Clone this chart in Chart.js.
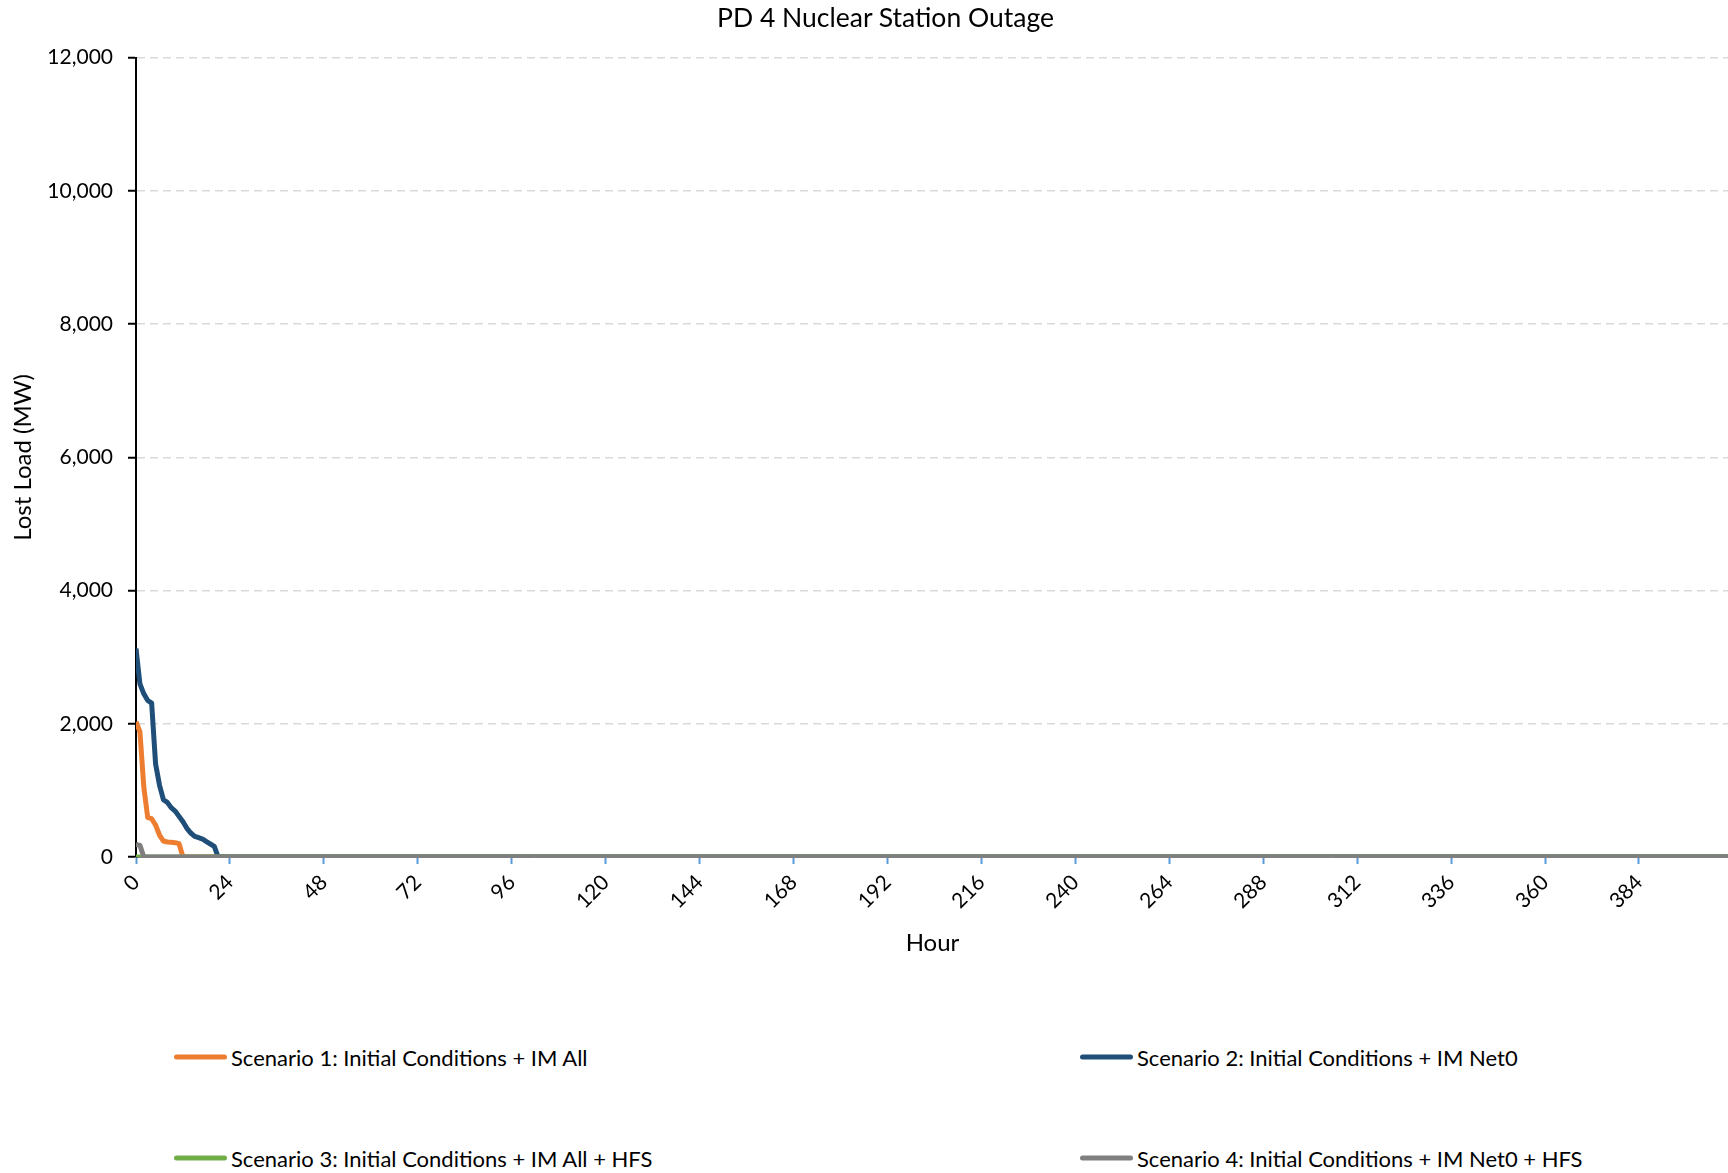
<!DOCTYPE html>
<html>
<head>
<meta charset="utf-8">
<script src="https://cdn.jsdelivr.net/npm/chart.js@4"></script>
<style>
  body { margin: 0; background: #fff; overflow: hidden; }
  #wrap { position: relative; width: 1771px; height: 1200px; }
  #title { position: absolute; left: 0; top: 1px; width: 1771px; height: 32px; line-height: 32px;
           text-align: center; font: 26.5px Lato, sans-serif; color: #000; }
  .item { position: absolute; display: flex; align-items: center; transform: translateY(-50%);
          font: 22px Lato, sans-serif; color: #000; white-space: nowrap; }
  .swatch { display: inline-block; width: 53px; height: 5px; border-radius: 3px; margin-right: 4px; }
</style>
</head>
<body>
<div id="wrap">
  <canvas id="outageChart" width="1764" height="1000"></canvas>
  <div id="title">PD 4 Nuclear Station Outage</div>
  <div id="legend"></div>
</div>
<script>
  // hours 0..24 read point by point, then flat at zero to the end of the run
  const hours = [0, 1, 2, 3, 4, 5, 6, 7, 8, 9, 10, 11, 12, 13, 14, 15, 16, 17, 18, 19, 20, 21, 22, 23, 24, 407];
  const scenario1 = [2030, 1880, 1050, 590, 575, 480, 330, 240, 225, 220, 215, 200, 0, 0, 0, 0, 0, 0, 0, 0, 0, 0, 0, 0, 0, 0];
  const scenario2 = [3130, 2600, 2450, 2350, 2310, 1400, 1080, 860, 820, 740, 690, 610, 530, 430, 360, 310, 290, 270, 230, 195, 160, 0, 0, 0, 0, 0];
  const scenario3 = [0, 0, 0, 0, 0, 0, 0, 0, 0, 0, 0, 0, 0, 0, 0, 0, 0, 0, 0, 0, 0, 0, 0, 0, 0, 0];
  const scenario4 = [190, 175, 0, 0, 0, 0, 0, 0, 0, 0, 0, 0, 0, 0, 0, 0, 0, 0, 0, 0, 0, 0, 0, 0, 0, 0];

  const seriesNames = [
    'Scenario 1: Initial Conditions + IM All',
    'Scenario 2: Initial Conditions + IM Net0',
    'Scenario 3: Initial Conditions + IM All + HFS',
    'Scenario 4: Initial Conditions + IM Net0 + HFS'
  ];
  const seriesColors = ['#ED7D31', '#1F4E79', '#70AD47', '#7F7F7F'];
  const seriesValues = [scenario1, scenario2, scenario3, scenario4];

  const toPoints = vals => vals.map((v, i) => ({ x: hours[i], y: v }));

  const datasets = seriesValues.map((vals, i) => ({
    label: seriesNames[i],
    data: toPoints(vals),
    borderColor: seriesColors[i],
    backgroundColor: seriesColors[i],
    borderWidth: 5,
    pointRadius: 0,
    tension: 0,
    borderJoinStyle: 'round',
    order: 4 - i   // later series drawn on top, like the original
  }));

  const font = { family: 'Lato', size: 21 };

  new Chart(document.getElementById('outageChart'), {
    type: 'line',
    data: { datasets },
    options: {
      responsive: false,
      animation: false,
      layout: { padding: { top: 57.7, right: 35 } },
      plugins: {
        legend: { display: false },
        tooltip: { enabled: false },
        title: { display: false }
      },
      scales: {
        x: {
          type: 'linear',
          min: 0,
          max: 407,
          afterFit: s => { s.height = 143; },
          ticks: {
            stepSize: 24,
            includeBounds: false,
            autoSkip: false,
            minRotation: 45,
            maxRotation: 45,
            color: '#000',
            font,
            padding: 6
          },
          grid: {
            drawOnChartArea: false,
            drawTicks: true,
            tickLength: 7,
            tickColor: '#5B9BD5',
            tickWidth: 2
          },
          border: { display: true, color: '#7F7F7F', width: 1 },
          title: {
            display: true,
            text: 'Hour',
            color: '#000',
            font: { family: 'Lato', size: 24 },
            padding: { top: 0, bottom: 42.6 }
          }
        },
        y: {
          min: 0,
          max: 12000,
          afterFit: s => { s.width = 136; },
          ticks: {
            stepSize: 2000,
            color: '#000',
            font,
            padding: 15,
            callback: v => v.toLocaleString('en-US')
          },
          grid: {
            color: '#D9D9D9',
            lineWidth: 1.5,
            tickColor: '#000',
            tickLength: 8,
            tickWidth: 2
          },
          border: { display: true, color: '#000', width: 2, dash: [8, 5] },
          title: {
            display: true,
            text: 'Lost Load (MW)',
            color: '#000',
            font: { family: 'Lato', size: 24 },
            padding: { top: 9, bottom: 0 }
          }
        }
      }
    }
  });

  // legend laid out 2 x 2 like the original
  const legendPos = [[174, 1057], [1080, 1057], [174, 1158], [1080, 1158]];
  const legend = document.getElementById('legend');
  seriesNames.forEach((name, i) => {
    const item = document.createElement('div');
    item.className = 'item';
    item.style.left = legendPos[i][0] + 'px';
    item.style.top = legendPos[i][1] + 'px';
    item.innerHTML = '<span class="swatch" style="background:' + seriesColors[i] + '"></span>' + name;
    legend.appendChild(item);
  });
</script>
</body>
</html>
